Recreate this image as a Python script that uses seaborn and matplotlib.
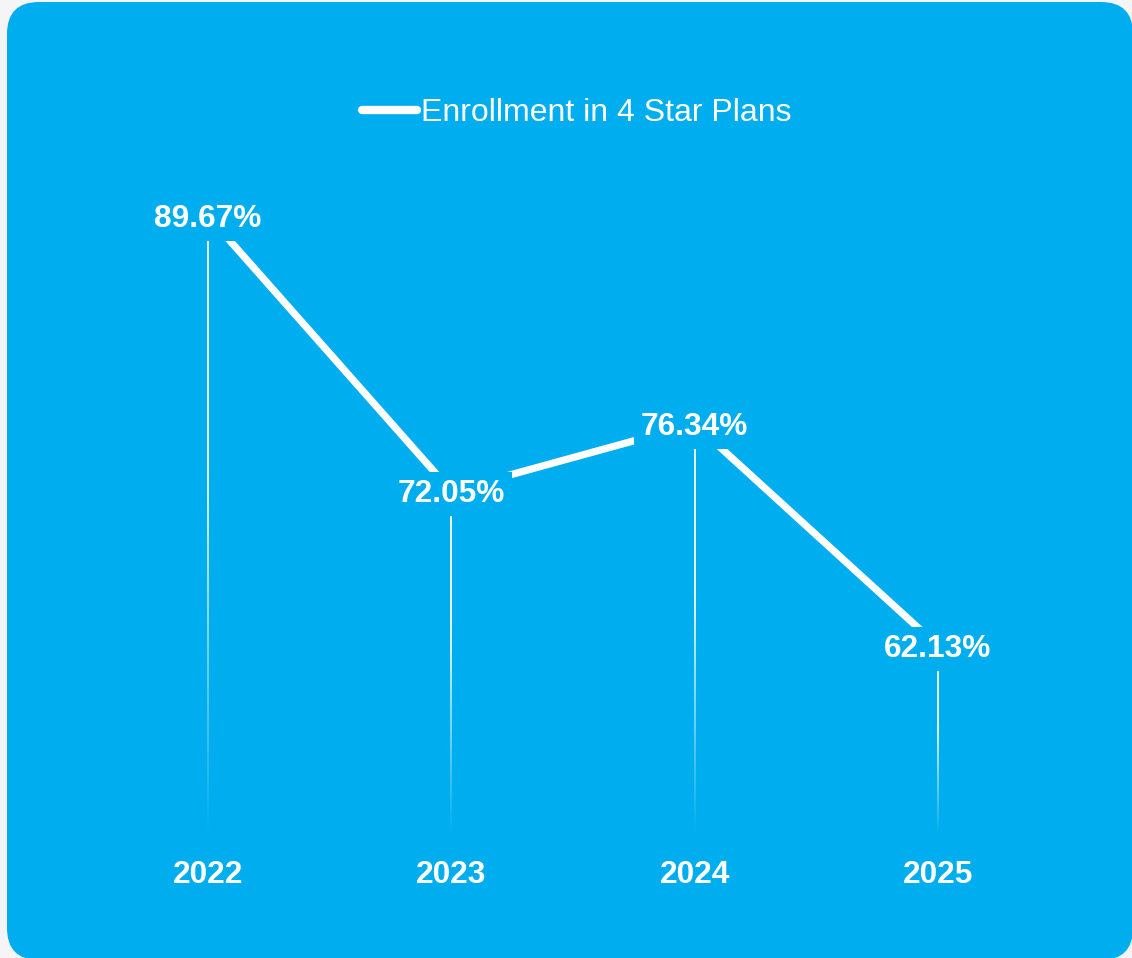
import numpy as np
import pandas as pd
import matplotlib
matplotlib.use("Agg")
import matplotlib.pyplot as plt
import seaborn as sns
from matplotlib.patches import FancyBboxPatch
from matplotlib.transforms import IdentityTransform
from matplotlib.collections import LineCollection
from matplotlib.lines import Line2D

# Chart data
years = ["2022", "2023", "2024", "2025"]
enrollment = [89.67, 72.05, 76.34, 62.13]
series_name = "Enrollment in 4 Star Plans"

CARD = "#00AEEF"
PAGE = "#F5F5F8"
Y_MIN, Y_MAX = 50, 95

sns.set_theme(style="white")
plt.rcParams["font.family"] = ["Liberation Sans", "DejaVu Sans"]

df = pd.DataFrame({"pos": np.arange(len(years)), "year": years, "value": enrollment})

fig = plt.figure(figsize=(11.32, 9.58), dpi=100, facecolor=PAGE)

# Rounded blue card behind the plot (pixel coordinates)
card = FancyBboxPatch((7, -2), 1126, 958,
                      boxstyle="round,pad=0,rounding_size=32",
                      transform=IdentityTransform(),
                      facecolor=CARD, edgecolor="none", zorder=-10)
fig.patches.append(card)

ax = fig.add_axes([0.0763, 0.1281, 0.8598, 0.7333])
ax.set_zorder(1)
ax.set_facecolor("none")

# Main trend line
sns.lineplot(data=df, x="pos", y="value", color="white", linewidth=5.2,
             ax=ax, legend=False, zorder=3)
for ln in ax.get_lines():
    ln.set_solid_capstyle("butt")
    ln.set_solid_joinstyle("miter")

# Drop lines fading toward the baseline
n_seg = 120
for x, v in zip(df["pos"], df["value"]):
    ys = np.linspace(v, Y_MIN, n_seg + 1)
    segs = [[(x, ys[k]), (x, ys[k + 1])] for k in range(n_seg)]
    t = np.linspace(0, 1, n_seg)
    alpha = np.clip((1 - t) / 0.6, 0, 1)
    colors = [(1, 1, 1, a) for a in alpha]
    ax.add_collection(LineCollection(segs, colors=colors, linewidths=1.3, zorder=2))

# Value labels on a card-coloured box that interrupts the lines
for x, v in zip(df["pos"], df["value"]):
    ax.annotate(f"{v:.2f}%", xy=(x, v), xytext=(0, -2), textcoords="offset points",
                ha="center", va="center", fontsize=22.8,
                fontweight="bold", color="white", zorder=5,
                bbox=dict(boxstyle="square,pad=0.22", fc=CARD, ec="none"))

ax.set_xlim(-0.5, 3.5)
ax.set_ylim(Y_MIN, Y_MAX)
ax.set_xticks(df["pos"], years)
ax.set_yticks([])
ax.tick_params(axis="x", length=0, pad=18, labelsize=22.8, labelcolor="white")
for lbl in ax.get_xticklabels():
    lbl.set_fontweight("bold")
ax.set_xlabel("")
ax.set_ylabel("")
for s in ax.spines.values():
    s.set_visible(False)

handle = Line2D([], [], color="white", linewidth=6, solid_capstyle="round")
fig.legend(handles=[handle], labels=[series_name], loc="center",
           bbox_to_anchor=(577 / 1132, 1 - 113 / 958), frameon=False,
           fontsize=23, labelcolor="white", handlelength=1.7,
           handletextpad=0.15)

fig.savefig("out.png", dpi=100, facecolor=PAGE)
